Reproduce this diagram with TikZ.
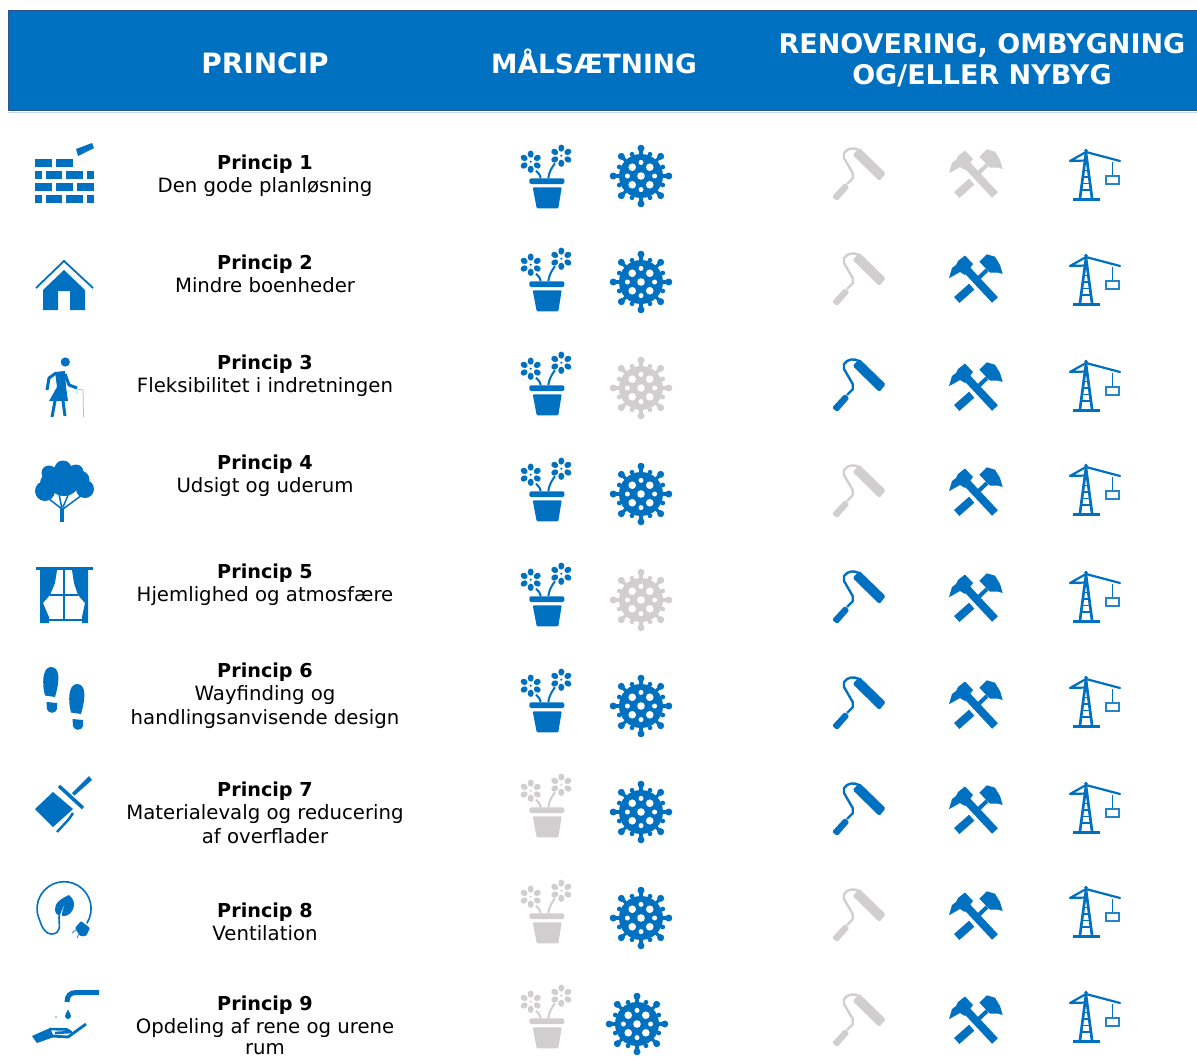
\documentclass[tikz,border=0pt]{standalone}
\usepackage{fontspec}
\setmainfont{DejaVu Sans}
\definecolor{ib}{HTML}{0070C0}
\definecolor{ig}{HTML}{D0CECE}
\definecolor{edge}{HTML}{2F528F}
\tikzset{
  iconcol/.code={\colorlet{ic}{#1}},
  hdr/.style={text=white,font=\fontsize{27}{31}\selectfont\bfseries,align=center,inner sep=0pt},
  ttl/.style={anchor=base,inner sep=0pt,font=\fontsize{19.2}{22}\selectfont\bfseries,text=black},
  bod/.style={anchor=base,inner sep=0pt,font=\fontsize{19.7}{22}\selectfont,text=black},
  pot/.pic={
    \foreach \cx/\cy in {-15.3/-14.3,15.3/-20.3}{
      \fill[ic] (\cx,\cy) circle[radius=1.2];
      \foreach \a in {30,90,150,210,270,330}
        \fill[ic,rotate around={\a:(\cx,\cy)}] ([shift={(7.6,0)}]\cx,\cy) ellipse[x radius=3.6,y radius=3];
    }
    \draw[ic,line width=2pt] (-5.3,2.3) .. controls (-6,-1.5) and (-8,-3.5) .. (-10,-5.3);
    \draw[ic,line width=2pt] (2.3,2.3) .. controls (3,-4) and (6,-9) .. (9,-12.7);
    \fill[ic,rounded corners=1.5pt] (-16.7,2.3) rectangle (18.3,8);
    \fill[ic,rounded corners=1pt] (-13.3,11.3) -- (15.7,11.3) -- (12.3,32.3) -- (-9.3,32.3) -- cycle;
  },
  vir/.pic={
    \fill[ic] (0,0) circle[radius=22];
    \foreach \a in {0,45,...,315}{
      \draw[ic,line width=3.2pt] (0,0) -- (\a:27);
      \fill[ic] (\a:27.8) circle[radius=3.5];
    }
    \foreach \a in {22.5,67.5,...,337.5}{
      \fill[ic] (\a:23.5) circle[radius=2.4];
    }
    \fill[white] (0,0) circle[radius=3.8];
    \foreach \a in {45,135,225,315} \fill[white] (\a:12.4) circle[radius=3.8];
    \foreach \a in {0,90,180,270} \fill[white] (\a:13.6) circle[radius=2.5];
  },
  rol/.pic={
    \fill[ic,rounded corners=1.5pt] (0.3,-26.3) -- (26.7,-0.7) -- (20.3,7) -- (-6.3,-19) -- cycle;
    \draw[ic,line width=2.4pt,line join=round] (0,-24) .. controls (-5,-26.5) and (-11,-26.5) .. (-15,-21) -- (-15,-16) -- (-6.3,-1) -- (-6.3,4.3) -- (-12,10);
    \fill[ic,rounded corners=1.5pt] (-14,8.7) -- (-9.7,13.3) -- (-21.7,27) -- (-27,22.7) -- cycle;
  },
  ham/.pic={
    \draw[ic,line width=8pt] (18,21) -- (-10,-9);
    \fill[ic] (-28,-1) -- (-25,-11) -- (-21,-14) -- (-19,-18) -- (-12,-23.5) -- (-4,-15) -- (-12,-4) -- (-17,-7) -- (-24,-3) -- cycle;
    \draw[ic,line width=8pt] (-20.3,21) -- (-5.3,7.7);
    \draw[ic,line width=4pt] (1.3,-0.7) -- (10,-9);
    \fill[ic] (2.3,-17.3) -- (9.7,-24.7) -- (18,-22.3) -- (23,-14) -- (25.7,-5) -- (21.3,-6.3) -- (13,-6.3) -- cycle;
  },
  cra/.pic={
    \draw[ic,line width=2.7pt,line join=round] (-15,23) -- (-9,-22) -- (-3,23);
    \draw[ic,line width=1.5pt] (-12.5,2) -- (-5,2) (-13,8.5) -- (-4.5,8.5) (-13.5,15) -- (-4,15) (-11.5,-4.5) -- (-6,-4.5);
    \draw[ic,line width=3pt] (-21.7,24) -- (5,24);
    \draw[ic,line width=2.2pt,line join=round,line cap=round] (-25,-14) -- (-9,-23) -- (25,-14) (-25,-14) -- (-9,-14.5);
    \fill[ic] (-9,-24.5) circle[radius=1.9];
    \draw[ic,line width=1.5pt] (17.3,-13) -- (17.3,0.7);
    \draw[ic!85!white,line width=2pt] (10.7,0.7) rectangle (24.3,9.3);
  },
  foot/.pic={
    \fill[ib] (-6,28.5) .. controls (-9,18) and (-9,0) .. (0,0) .. controls (9,0) and (9,13) .. (4,30) -- cycle;
    \fill[ib] (-4.5,35) -- (6,36) -- (6,42) .. controls (5,47) and (-3,47) .. (-4,42) -- cycle;
  }
}
\newcommand{\rowtext}[4]{%
  \node[ttl] (t#1) at (265,#2) {Princip #1};
  \foreach \txt [count=\i from 0] in {#3}{
    \node[bod] (b#1x\i) at (265,{#2+#4+24*\i}) {\txt};
  }%
}
\begin{document}
\begin{tikzpicture}[x=1pt,y=-1pt]
\useasboundingbox (0,0) rectangle (1197,1057);
% header
\fill[ib!25!white] (8,112) rectangle (1197,113);
\draw[edge,fill=ib,line width=1.4pt] (8.7,10.7) rectangle (1198,110.7);
\node[hdr,anchor=base,font=\fontsize{28}{31}\selectfont\bfseries] (h1) at (265,74) {PRINCIP};
\node[hdr,anchor=base,font=\fontsize{26.5}{31}\selectfont\bfseries] (h2) at (594,74) {MÅLSÆTNING};
\node[hdr] (h3) at (982,60.5) {RENOVERING, OMBYGNING\\OG/ELLER NYBYG};
% texts
\rowtext{1}{169}{Den gode planløsning}{23}
\rowtext{2}{269}{Mindre boenheder}{23}
\rowtext{3}{369}{Fleksibilitet i indretningen}{23}
\rowtext{4}{469}{Udsigt og uderum}{23}
\rowtext{5}{578}{Hjemlighed og atmosfære}{23}
\rowtext{6}{677}{Wayfinding og,handlingsanvisende design}{23}
\rowtext{7}{796}{Materialevalg og reducering,af overflader}{23}
\rowtext{8}{917}{Ventilation}{23}
\rowtext{9}{1010}{Opdeling af rene og urene}{23}
\node[bod] (b9x1) at (265,1054.5) {rum};
% column icons
\foreach \y/\c in {176/ib,279/ib,383/ib,489/ib,594/ib,700/ib,805/ig,911/ig,1016/ig}
  \pic[iconcol=\c] at (546,\y) {pot};
\foreach \x/\y/\c in {641/176/ib,641/282/ib,641/388/ig,641/494/ib,641/600/ig,641/706/ib,641/812/ib,641/918/ib,637/1024/ib}
  \pic[iconcol=\c] at (\x,\y) {vir};
\foreach \y/\c in {174/ig,279/ig,385/ib,491/ig,597/ib,703/ib,809/ib,915/ig,1020/ig}
  \pic[iconcol=\c] at (859,\y) {rol};
\foreach \y/\c in {174/ig,279/ib,387/ib,492/ib,598/ib,705/ib,810/ib,916/ib,1020/ib}
  \pic[iconcol=\c] at (977,\y) {ham};
\foreach \y in {175,280,386,490,597,702,808,912,1017}
  \pic[iconcol=ib] at (1095,\y) {cra};
% bricks
\foreach \a/\b/\t in {35/52/159,56/73/159,35/42/171,46/62/171,66/83/171,87/94/171,35/52/183,56/73/183,77/94/183,35/42/195,46/62/195,66/83/195,87/94/195}
  \fill[ib] (\a,\t) rectangle (\b,\t+7.6);
\fill[ib] (76,149) -- (92,143) -- (94,148) -- (78,156) -- cycle;
% house
\draw[ib,line width=1.8pt] (36,288) -- (64,261) -- (93,288);
\fill[ib] (64,270) -- (43,290) -- (43,310) -- (58,310) -- (58,291) -- (70,291) -- (70,310) -- (85,310) -- (85,290) -- cycle;
% person
\fill[ib] (65.3,362) circle[radius=4.6];
\fill[ib] (55,372) -- (65,371) -- (66,387) -- (68,401) -- (49,401) -- (57,387) -- cycle;
\draw[ib,line width=3pt,line join=round] (56,373) -- (49,378) -- (47,390);
\draw[ib,line width=3pt,line join=round] (65,374) -- (69,385) -- (77,388);
\draw[ib,line width=3pt] (55,401) -- (52,417);
\draw[ib,line width=3pt] (63,401) -- (65,416);
\draw[ib!40!white,line width=.8pt] (77,394) -- (77,389) -- (83,390) -- (83.5,417);
% tree
\fill[ib] (45,491) circle[radius=10] (49,473) circle[radius=7.5] (63,469) circle[radius=8.5] (76,472) circle[radius=7.5] (85,489) circle[radius=9] (64,480) circle[radius=16] (80,480) circle[radius=9.5] (50,483) circle[radius=10];
\draw[ib,line width=4pt] (62,522) -- (62,508);
\draw[ib,line width=1.5pt] (62,509) -- (49,499) (62,509) -- (59,494) (63,507) -- (69,493) (63,509) -- (82,495);
% window
\fill[ib] (36,567) rectangle (93,570);
\fill[ib] (40,570) -- (57,570) -- (55,583) -- (50,595) -- (43,603) -- (49,617) -- (49,623) -- (40,623) -- cycle;
\fill[ib] (88,570) -- (72,570) -- (74,583) -- (78,595) -- (85,603) -- (82,617) -- (82,623) -- (88,623) -- cycle;
\draw[ib,line width=1.4pt] (64,570) -- (64,620) (50,595) -- (78,595) (49,620) -- (82,620);
% footprints
\pic at (51,667) {foot};
\pic at (77,684) {foot};
% brush
\fill[ib] (53,792) -- (35,809) -- (53,827) -- (73,809) -- cycle;
\draw[ib,line width=2.4pt] (57,832) -- (69,819) -- (73,813);
\draw[ib,line width=3.5pt] (59,786) -- (83,808);
\fill[ib] (72,793) -- (74.5,795.5) -- (92,780) -- (89,776) -- cycle;
% plug
\draw[ib,line width=1.6pt,line cap=round] (87,923) arc[start angle=32,end angle=-205,radius=27] .. controls (42,928) and (46,934) .. (51,934) .. controls (62,934) and (59,925) .. (59,918) .. controls (59,914) and (60,912) .. (62,908);
\fill[ib] (69,895) .. controls (62,898) and (54,903) .. (55,910) .. controls (55.5,914) and (58,916) .. (60,915) .. controls (60,911) and (62,908) .. (65,905) .. controls (63,908) and (62,912) .. (62,916) .. controls (68,917) and (74,912) .. (74,904) .. controls (74,900) and (71,897) .. (69,895) -- cycle;
\fill[ib,rounded corners=1pt] (75,928) -- (81,921) -- (90,928) -- (86,936) -- (80,936) -- cycle;
\draw[ib!70!white,line width=1.1pt] (76,930) -- (72,933) (79,934) -- (77,938);
% tap and hand
\draw[ib,line width=5pt] (99,992.5) -- (76,992.5) .. controls (70,992.5) and (67,996) .. (67,1002);
\fill[ib] (68,1009.5) .. controls (69,1012) and (71,1014) .. (71,1016) .. controls (71,1020) and (65,1020) .. (65,1016) .. controls (65,1014) and (67,1012) .. (68,1009.5) -- cycle;
\fill[ib!70!white] (56,1017) circle[radius=.8] (78,1016) circle[radius=.5];
\fill[ib!35!white] (59,1010) circle[radius=.4];
\fill[ib] (32,1036) -- (50,1028) -- (54,1037) -- (37,1043) -- cycle;
\draw[ib,line width=2.6pt,line join=round] (50,1029) -- (67,1029.5) -- (71,1032) -- (55,1033);
\draw[ib,line width=2.8pt,line join=round] (52,1036) -- (68,1037) -- (86,1024);
\end{tikzpicture}
\end{document}
